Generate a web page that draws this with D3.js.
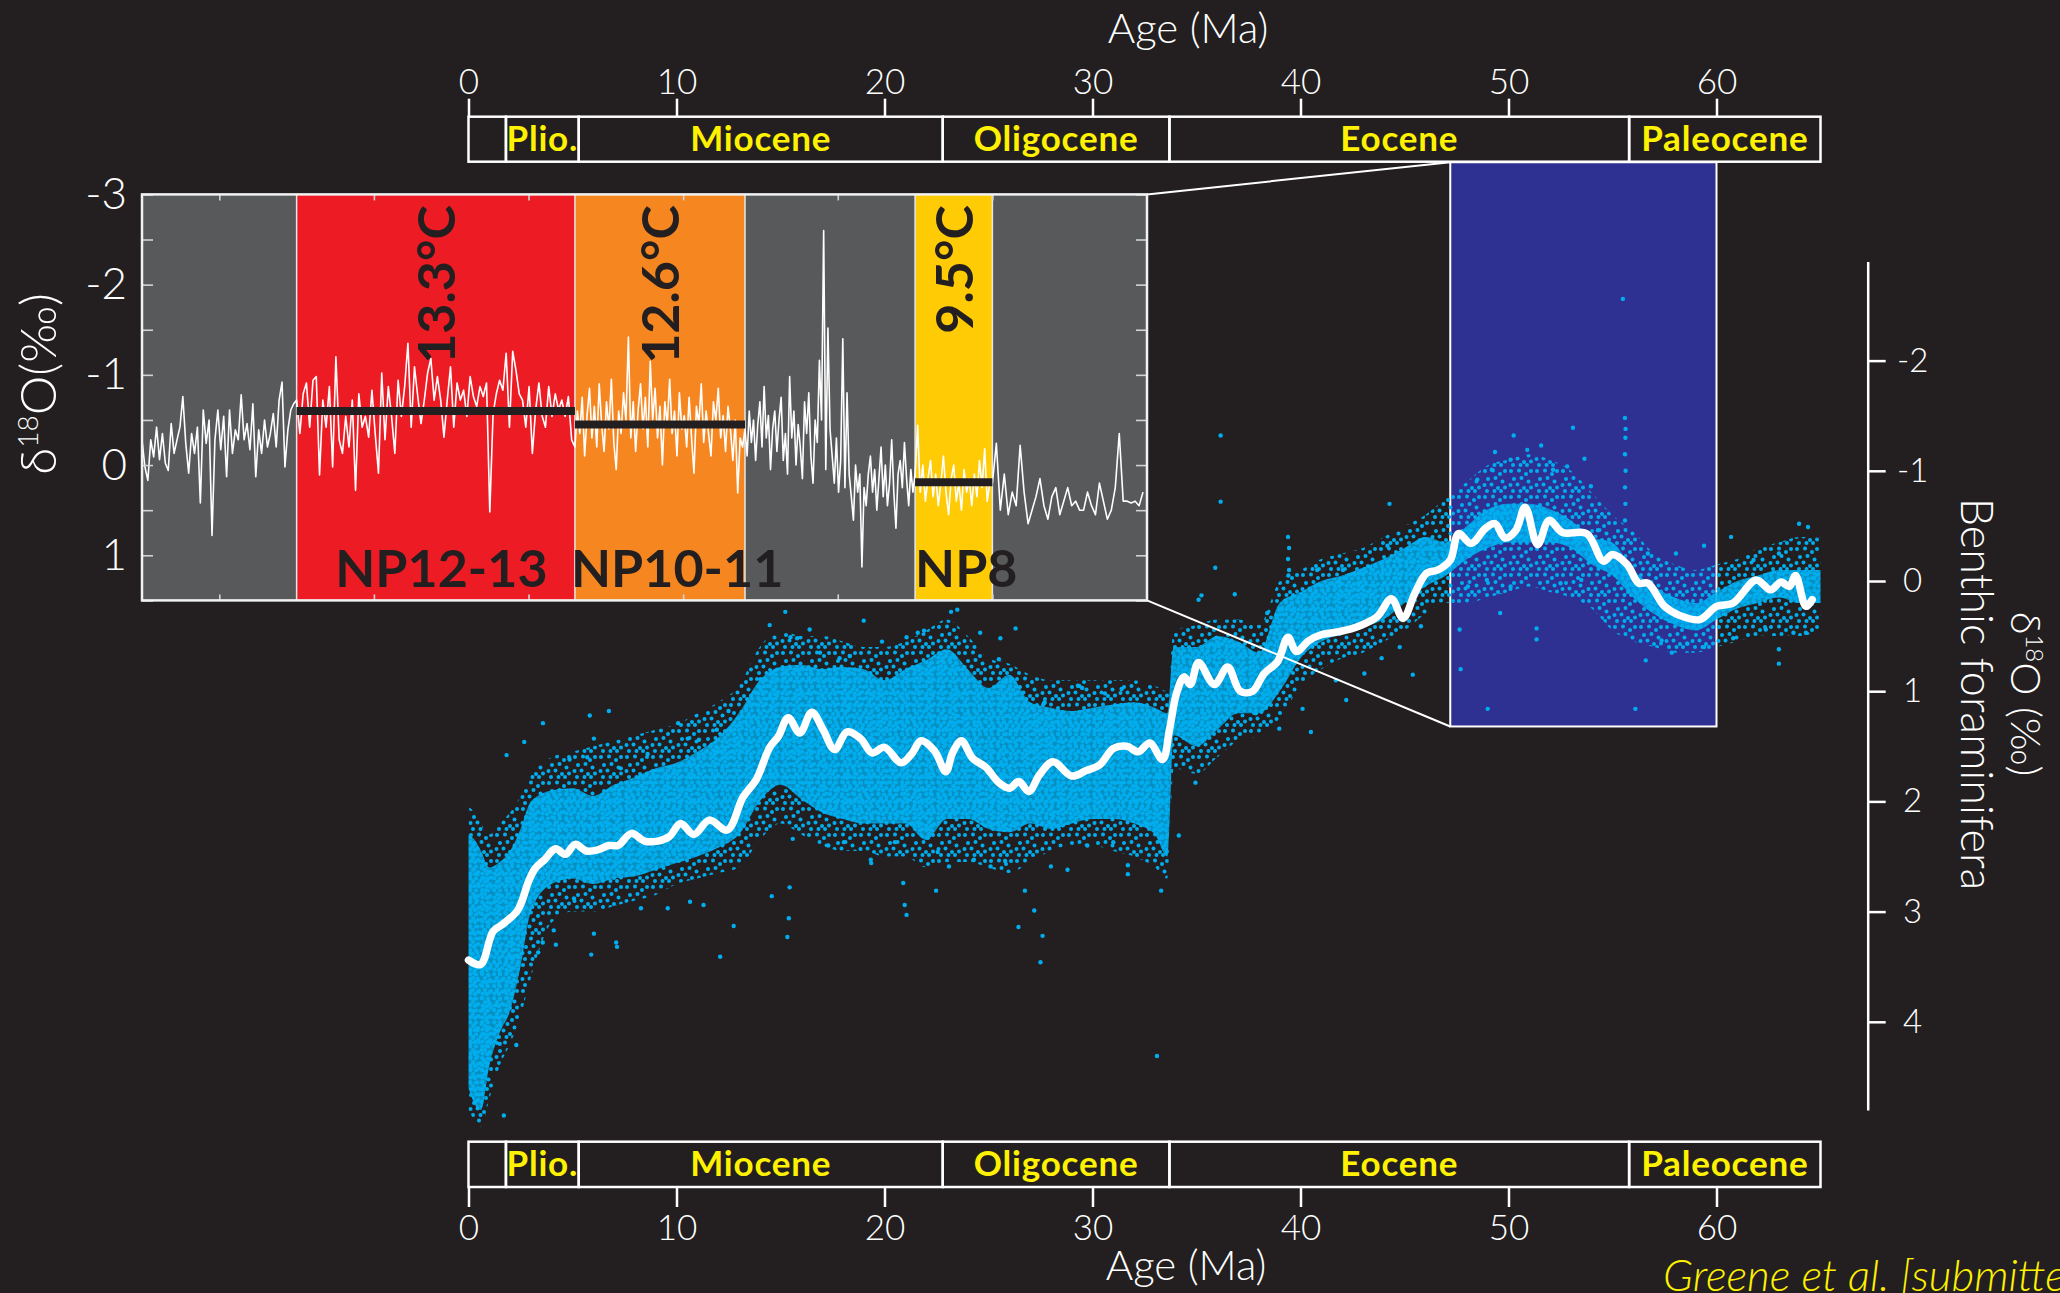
<!DOCTYPE html>
<html>
<head>
<meta charset="utf-8">
<script src="https://cdnjs.cloudflare.com/ajax/libs/d3/7.8.5/d3.min.js"></script>
<style>
  body { margin: 0; background: #231f20; }
  svg { display: block; }
  text { font-family: Lato, "Open Sans", sans-serif; }
</style>
</head>
<body>
<script>
// ---------------- data ----------------
var ageTicks = [0, 10, 20, 30, 40, 50, 60];
var epochNames  = ["", "Plio.", "Miocene", "Oligocene", "Eocene", "Paleocene"];
var epochStarts = [0, 1.8, 5.3, 22.8, 33.7, 55.8];
var epochEnds   = [1.8, 5.3, 22.8, 33.7, 55.8, 65];
var benthicTicks = [-2, -1, 0, 1, 2, 3, 4];

// smoothed benthic d18O curve [age Ma, d18O]
var curvePoints = [
  [0.0,3.44],[0.58,3.48],[1.18,3.18],[1.6,3.12],[2.36,2.99],[2.9,2.72],[3.2,2.61],[3.65,2.53],
  [4.18,2.43],[4.66,2.48],[5.13,2.39],[5.67,2.45],[6.22,2.44],[6.75,2.40],[7.19,2.40],[7.83,2.29],
  [8.46,2.36],[9.1,2.36],[9.65,2.32],[10.2,2.20],[10.83,2.30],[11.58,2.17],[12.44,2.26],[13.2,1.96],
  [13.84,1.80],[14.48,1.51],[14.9,1.41],[15.37,1.24],[15.93,1.38],[16.5,1.19],[17.05,1.35],[17.6,1.53],
  [18.2,1.37],[18.85,1.43],[19.4,1.56],[20.0,1.51],[20.8,1.65],[21.3,1.57],[21.76,1.45],[22.4,1.54],
  [22.95,1.73],[23.27,1.56],[23.7,1.45],[24.24,1.61],[24.87,1.69],[25.5,1.83],[26.0,1.88],[26.46,1.82],
  [26.94,1.91],[27.45,1.76],[28.1,1.64],[29.0,1.77],[29.7,1.72],[30.34,1.67],[31.0,1.52],[31.65,1.50],
  [32.2,1.55],[32.75,1.47],[33.37,1.62],[33.7,1.35],[34.04,1.02],[34.4,0.87],[34.7,0.94],[35.1,0.74],
  [35.86,0.94],[36.5,0.78],[37.1,1.00],[37.7,1.00],[38.25,0.84],[38.9,0.73],[39.4,0.51],[39.8,0.64],
  [40.4,0.54],[40.96,0.49],[41.86,0.46],[42.8,0.41],[43.7,0.32],[44.37,0.16],[44.93,0.34],[45.5,0.11],
  [46.06,-0.07],[46.6,-0.10],[47.2,-0.19],[47.6,-0.43],[48.2,-0.34],[48.9,-0.48],[49.35,-0.52],[49.83,-0.39],
  [50.35,-0.46],[50.8,-0.67],[51.4,-0.33],[51.95,-0.55],[52.6,-0.44],[53.76,-0.43],[54.56,-0.18],[55.0,-0.24],
  [55.7,-0.15],[56.26,0.02],[56.7,0.02],[57.5,0.23],[58.2,0.31],[59.2,0.35],[60.0,0.23],[60.8,0.20],
  [61.9,-0.01],[62.6,0.08],[63.1,0.01],[63.5,0.05],[63.8,-0.05],[64.3,0.23],[64.6,0.17]
];

// envelope of the benthic point cloud
var cloudAge     = [0,0.3,0.6,1,1.5,2,2.5,3, 4,5,6,7,8,9,10,11,12,13, 14,15,16,17,18,19,20,21,22,23,
                    24,25,26,27,28,29,30,31,32,33, 33.6,33.9, 35,36,37,38,39,40,41,42,43,44,45,46,
                    47,48,49,50,51,52,53,54,55,56,57,58,59,60,61,62,63,64,65];
var spreadTop    = [2.05,2.1,2.2,2.3,2.2,2.1,1.95,1.75, 1.6,1.55,1.5,1.45,1.4,1.35,1.3,1.2,1.1,0.95,
                    0.6,0.45,0.5,0.5,0.55,0.6,0.6,0.55,0.45,0.35, 0.5,0.7,0.75,0.85,0.9,0.9,0.9,0.9,0.9,0.95,
                    1.0,0.45, 0.4,0.35,0.35,0.4,0.0,-0.1,-0.2,-0.25,-0.3,-0.4,-0.5,-0.6,
                    -0.75,-0.9,-1.05,-1.1,-1.15,-1.1,-1.0,-0.8,-0.6,-0.45,-0.25,-0.15,-0.1,-0.15,-0.2,-0.3,-0.35,-0.4,-0.4];
var spreadBottom = [4.8,4.9,4.95,4.7,4.4,4.2,3.95,3.6, 3.1,3.0,3.0,2.95,2.9,2.85,2.75,2.7,2.65,2.6,
                    2.35,2.2,2.3,2.4,2.45,2.45,2.5,2.5,2.6,2.55, 2.55,2.6,2.65,2.55,2.45,2.4,2.4,2.45,2.5,2.6,
                    2.7,1.7, 1.75,1.6,1.45,1.4,1.25,0.95,0.8,0.7,0.65,0.55,0.45,0.3,
                    0.2,0.2,0.15,0.1,0.05,0.1,0.15,0.25,0.45,0.55,0.6,0.65,0.65,0.6,0.55,0.5,0.5,0.5,0.45];
var coreTop      = [2.3,2.35,2.45,2.6,2.55,2.45,2.25,2.0, 1.9,1.88,1.95,1.85,1.78,1.7,1.65,1.55,1.42,1.2,
                    0.9,0.78,0.76,0.8,0.78,0.8,0.9,0.8,0.72,0.62, 0.8,0.97,0.85,1.1,1.15,1.18,1.15,1.12,1.1,1.15,
                    1.2,0.6, 0.6,0.5,0.55,0.65,0.2,0.1,0.0,-0.05,-0.12,-0.2,-0.3,-0.4,
                    -0.35,-0.5,-0.65,-0.7,-0.7,-0.65,-0.55,-0.4,-0.35,-0.1,0.05,0.15,0.2,0.1,0.0,-0.05,-0.1,-0.1,-0.1];
var coreBottom   = [4.6,4.75,4.8,4.4,4.1,3.9,3.5,3.0, 2.75,2.7,2.75,2.7,2.68,2.62,2.56,2.5,2.42,2.3,
                    2.0,1.85,1.98,2.1,2.16,2.2,2.2,2.2,2.35,2.16, 2.16,2.25,2.28,2.2,2.25,2.2,2.16,2.16,2.2,2.3,
                    2.5,1.4, 1.5,1.35,1.2,1.2,1.0,0.7,0.55,0.48,0.42,0.35,0.2,0.05,
                    -0.05,-0.2,-0.3,-0.35,-0.35,-0.35,-0.3,-0.15,-0.05,0.15,0.3,0.4,0.45,0.35,0.25,0.2,0.15,0.2,0.2];

// single measurements lying outside the dense cloud [age, d18O]
var outliers = [
  [1.83,1.58],[2.68,1.46],[3.58,1.29],[5.83,1.22],[6.75,1.18],[6.03,1.43],[10.08,1.29],[12.5,1.18],
  [14.48,0.40],[15.23,0.28],[19.0,0.36],[23.5,0.26],[21.9,0.45],[1.7,4.85],[2.3,4.21],[1.5,4.2],
  [4.2,3.3],[5.9,3.39],[7.14,3.32],[12.1,3.41],[12.75,3.13],[15.33,3.23],[15.4,3.06],[14.58,2.86],
  [15.44,2.78],[21.06,3.03],[20.97,2.94],[22.48,2.81],[26.44,3.14],[27.6,3.22],[27.5,3.46],[27.2,2.99],
  [20.9,2.74],[19.36,2.56],[24.3,2.53],[31.7,2.58],[31.4,0.98],[29.5,0.97],[27.67,1.11],
  [36.16,-1.32],[36.16,-0.72],[35.9,-0.12],[35.1,0.17],[36.84,0.12],[44.28,-0.70],[44.18,-0.32],
  [34.95,1.83],[34.15,2.31],[33.3,2.81],[40.5,1.37],[42.2,1.08],[45.4,0.85],[43.9,0.70],[47.7,0.80],
  [47.65,0.44],[49.6,0.29],[51.35,0.43],[51.35,0.53],[56.1,1.16],[53.1,-1.39],[55.6,-1.48],[50.25,-1.32],
  [51.57,-1.23],[49.35,-1.17],[53.65,-1.11],[56.6,0.72],[57.85,0.65],[60.7,-0.40],[59.4,-0.32],
  [63.97,-0.52],[64.4,-0.49],[63.0,0.75],[64.3,0.47],[63.0,0.62],[60.8,0.52],
  [33.1,4.31],[55.5,-2.56],[49.0,1.16],
  [55.62,-1.3],[55.6,-1.15],[55.63,-1.0],[55.6,-0.85],[55.62,-0.7],[55.6,-0.55],[55.63,-1.38],
  [39.4,-0.4],[39.45,-0.3],[39.4,-0.2],[39.45,-0.1],[39.42,-0.05],
  [4.86,1.62],[5.71,1.60],[7.32,1.70],[8.61,1.57],[10.54,1.43],[11.08,1.44],[11.94,1.35],[13.05,1.29],
  [14.04,0.89],[15.48,0.51],[15.8,0.52],[16.4,0.44],[16.9,0.65],[17.84,0.70],[18.33,0.68],[19.88,0.55],
  [21.06,0.51],[21.6,0.47],[23.2,0.28],[24.6,0.47],[25.57,0.52],[26.3,0.43],[25.5,0.71],[27.7,1.10],
  [28.57,1.19],[29.3,0.95],[30.6,1.02],
  [3.35,3.37],[3.57,3.28],[4.1,3.17],[5.07,2.88],[6.03,3.20],[7.1,3.28],[8.29,2.97],[9.58,2.97],
  [10.65,2.91],[11.3,2.94],[15.59,2.34],[17.3,2.40],[18.05,2.37],[19.34,2.53],[20.5,2.37],[22.56,2.46],
  [23.1,2.59],[25.1,2.59],[25.8,2.54],[26.75,2.81],[28.0,2.59],[28.8,2.62],[29.75,2.40],[31.0,2.37],[31.7,2.66],
  [35.24,0.13],[38.4,0.29],[39.1,0.26],[40.8,-0.10],[42.04,-0.10],[42.84,-0.07],[43.96,-0.10],[45.1,-0.28],
  [45.45,-0.19],[46.24,-0.31],[37.85,1.2],[38.98,1.34],[40.1,1.16],[41.7,0.90],[43.07,0.84],[44.77,0.60],[45.79,0.41],
  [48.5,-0.92],[49.2,-1.01],[50.1,-1.10],[50.9,-1.19],[52.14,-1.01],[52.82,-1.04],[53.96,-0.86],[54.3,-0.46],
  [48.05,0.05],[48.96,-0.01],[50.1,0.05],[52.5,0.02],[53.5,-0.01],[56.7,-0.25],[58.05,-0.25],[57.36,0.54],
  [58.6,0.57],[59.4,0.60],[61.78,-0.19],[63.0,-0.25],[62.37,0.44],[63.7,0.47]
];

// zoom box on the main record (age, d18O)
var zoomAges = [47.2, 60];
var zoomD18O = [-3.8, 1.32];

// inset: high-resolution record, one list per interval
var insetTicksY = [-3, -2.5, -2, -1.5, -1, -0.5, 0, 0.5, 1, 1.5];
var insetTicksX = [48, 50, 52, 54, 56, 58];
var bandEdges = [47, 49, 52.6, 54.8, 57, 58, 60];
var bandKind  = ["none", "NP12-13", "NP10-11", "none", "NP8", "none"];

var insetRec1 = [-0.28,0.02,0.17,-0.28,-0.09,-0.42,-0.06,-0.35,-0.02,0.06,-0.46,-0.13,-0.28,-0.42,-0.76,-0.24,
  0.09,-0.35,-0.13,-0.42,0.42,-0.61,-0.24,-0.5,0.78,-0.28,-0.61,-0.17,-0.54,0.13,-0.61,-0.13,-0.39,-0.28,
  -0.78,-0.28,-0.46,-0.17,-0.68,0.13,-0.39,-0.13,-0.5,-0.2,-0.35,-0.57,-0.2,-0.72,-0.92,0.02,-0.39,-0.61,-0.68];
var insetRec2 = [-0.72,-0.35,-0.79,-0.91,-0.42,-0.94,-0.98,0.11,-0.72,-0.42,-0.87,0.02,-1.2,-0.28,-0.13,-0.54,
  -0.2,-0.72,0.28,-0.79,-0.42,-0.54,-0.31,-0.83,-0.35,0.09,-1.02,-0.28,-0.87,-0.54,-0.13,-0.94,-0.54,-0.87,
  -1.35,-0.42,-1.09,-0.76,-0.46,-0.72,-1.02,-1.18,-0.72,-0.98,-0.72,-0.31,-0.72,-1.09,-0.42,-0.91,-0.72,-0.83,
  -0.54,-0.98,-0.76,-0.65,-0.87,-0.76,-0.91,0.52,-0.57,-0.79,-0.94,-0.83,-1.24,-0.42,-1.26,-1.05,-0.79,-0.72,
  -0.42,-0.87,-0.13,-0.61,-0.91,-0.54,-0.42,-0.87,-0.54,-0.79,-0.61,-0.72,-0.54,-0.76,-0.28];
var insetRec3 = [-0.2,-0.6,-0.35,-0.75,-0.1,-0.55,-0.85,-0.3,-0.65,-0.2,-0.9,-0.45,-0.15,-0.7,-0.4,-0.95,-0.25,
  0.05,-0.6,-0.35,-0.8,-0.5,-1.42,-0.3,-0.7,-0.15,-0.6,-0.9,-0.4,-0.75,-0.2,-1.15,-0.5,-0.85,-0.3,-0.65,0.0,
  -0.7,-0.45,-0.95,-0.35,-0.6,-0.1,-0.8,-0.4,-0.55,-0.2,-0.75,-0.3,0.09,-0.65,-0.45,-0.9,-0.25,-0.6,-0.35,
  -0.1,-0.7,-0.5,-0.85,-0.3,-0.55,-0.15,-0.65,-0.4,-0.05,-0.5,0.31,-0.3,-0.2];
var insetRec4 = [-0.4,-0.1,-0.6,-0.25,-0.5,-0.05,-0.45,-0.7,-0.2,-0.87,-0.3,-0.55,0.05,-0.4,-0.6,-0.15,-0.5,
  -0.75,-0.05,-0.35,0.1,-0.98,-0.3,-0.6,0.0,-0.45,-0.2,0.15,-0.7,-0.35,-0.8,-0.1,0.2,-0.5,-0.25,-1.16,-0.5,
  -2.6,0.05,-1.52,-0.4,-0.1,0.2,-0.3,0.3,-0.05,-1.4,0.25,-0.8,0.1,0.35,0.61,0.0,0.3,0.1,1.13,0.25,0.45,0.1,
  -0.1,0.3,0.05,0.5,0.15,-0.2,0.35,0.0,0.45,0.2,-0.28,0.3,0.7,0.1,-0.05,0.25,-0.25,0.15,0.45,0.05,0.3];
var insetRec5 = [0.1,-0.44,0.3,0.0,0.4,0.15,-0.05,0.35,0.1,0.45,0.2,-0.1,0.3,0.55,0.15,0.0,0.4,0.2,0.5,0.05,
  0.3,0.15,0.45,0.1,0.35,-0.05,0.25,-0.18,0.4,0.2];
var insetRec6 = [0.2,-0.24,0.5,0.1,0.55,0.3,0.45,-0.22,0.3,0.65,0.5,0.35,0.15,0.45,0.6,0.35,0.25,0.55,0.4,0.25,
  0.45,0.4,0.5,0.5,0.3,0.45,0.55,0.2,0.4,0.6,0.5,0.25,-0.35,0.4,0.4,0.42,0.4,0.45,0.3];
var insetRecords = [insetRec1, insetRec2, insetRec3, insetRec4, insetRec5, insetRec6];

// nannofossil zones: mean d18O and temperature
var npNames = ["NP12-13", "NP10-11", "NP8"];
var npFrom  = [49.0, 52.6, 57.0];
var npTo    = [52.6, 54.8, 58.0];
var npMean  = [-0.6, -0.45, 0.19];
var npTemp  = ["13.3°C", "12.6°C", "9.5°C"];
var npLabelAge = [49.5, 52.55, 57.0];

// ---------------- styles ----------------
var BG = "#231f20", CYAN = "#00aeef", YELLOW = "#fff200", DARK = "#231f20";
var bandColor = { "none": "#58595b", "NP12-13": "#ed1c24", "NP10-11": "#f6861f", "NP8": "#ffcb05" };

var W = 2060, H = 1293;
var svg = d3.select("body").append("svg")
    .attr("width", W).attr("height", H)
    .style("background", BG);
var defs = svg.append("defs");

// scales
var x = d3.scaleLinear().domain([0, 65]).range([468.5, 1820.5]);
var y = d3.scaleLinear().domain([-2.9, 4.8]).range([581 - 2.9 * 110.2, 581 + 4.8 * 110.2]);
var xIn = d3.scaleLinear().domain([47, 60]).range([142, 1147]);
var yIn = d3.scaleLinear().domain([-3, 1.5]).range([194.4, 600.4]);

// textures for the point cloud
function dotPattern(id, size, pts, r, under) {
  var p = defs.append("pattern").attr("id", id)
      .attr("patternUnits", "userSpaceOnUse").attr("width", size).attr("height", size);
  if (under) p.append("rect").attr("width", size).attr("height", size).attr("fill", CYAN).attr("opacity", under);
  pts.forEach(function (q) {
    p.append("circle").attr("cx", q[0]).attr("cy", q[1]).attr("r", r).attr("fill", CYAN);
  });
}
dotPattern("speck", 26, [[3,3],[11,2.5],[18,6],[23,3],[6,11],[13.5,10],[20.5,13.5],[2.5,17],[9.5,16.5],
  [16,20],[23,19.5],[5,23],[12.5,23],[19,23]], 2.0);
dotPattern("dense", 12, [[2.2,2.2],[8,2.5],[5,6],[10,8],[2.5,9.5],[7,10]], 2.1, 0.78);

// ---------------- zoom box ----------------
svg.append("rect")
    .attr("x", x(zoomAges[0])).attr("y", y(zoomD18O[0]))
    .attr("width", x(zoomAges[1]) - x(zoomAges[0]))
    .attr("height", y(zoomD18O[1]) - y(zoomD18O[0]))
    .attr("fill", "#2e3192").attr("stroke", "#fff").attr("stroke-width", 2);

// ---------------- main cloud ----------------
var cloudRows = cloudAge.map(function (a, i) {
  return { a: a, st: spreadTop[i], sb: spreadBottom[i], ct: coreTop[i], cb: coreBottom[i] };
});

svg.append("path").datum(cloudRows)
    .attr("fill", "url(#speck)")
    .attr("d", d3.area().curve(d3.curveMonotoneX)
        .x(function (d) { return x(d.a); })
        .y0(function (d) { return y(d.sb); })
        .y1(function (d) { return y(d.st); }));

svg.append("path").datum(cloudRows)
    .attr("fill", "url(#dense)")
    .attr("d", d3.area().curve(d3.curveMonotoneX)
        .x(function (d) { return x(d.a); })
        .y0(function (d) { return y(d.cb); })
        .y1(function (d) { return y(d.ct); }));

svg.append("g").selectAll("circle")
    .data(outliers).enter().append("circle")
    .attr("cx", function (d) { return x(d[0]); })
    .attr("cy", function (d) { return y(d[1]); })
    .attr("r", 2.2)
    .attr("fill", CYAN);

// smoothed curve
svg.append("path").datum(curvePoints)
    .attr("fill", "none").attr("stroke", "#fff")
    .attr("stroke-width", 7.5).attr("stroke-linejoin", "round").attr("stroke-linecap", "round")
    .attr("d", d3.line().curve(d3.curveCatmullRom.alpha(0.5))
        .x(function (d) { return x(d[0]); })
        .y(function (d) { return y(d[1]); }));

// connector lines inset -> zoom box
svg.append("line")
    .attr("x1", xIn(60)).attr("y1", yIn(-3))
    .attr("x2", x(zoomAges[0])).attr("y2", y(zoomD18O[0]))
    .attr("stroke", "#fff").attr("stroke-width", 2);
svg.append("line")
    .attr("x1", xIn(60)).attr("y1", yIn(1.5))
    .attr("x2", x(zoomAges[0])).attr("y2", y(zoomD18O[1]))
    .attr("stroke", "#fff").attr("stroke-width", 2);

// ---------------- inset ----------------
var inset = svg.append("g");
defs.append("clipPath").attr("id", "insetClip").append("rect")
    .attr("x", xIn(47)).attr("y", yIn(-3))
    .attr("width", xIn(60) - xIn(47)).attr("height", yIn(1.5) - yIn(-3));

inset.selectAll("rect.band")
    .data(bandKind).enter().append("rect")
    .attr("class", "band")
    .attr("x", function (d, i) { return xIn(bandEdges[i]); })
    .attr("y", yIn(-3))
    .attr("width", function (d, i) { return xIn(bandEdges[i + 1]) - xIn(bandEdges[i]); })
    .attr("height", yIn(1.5) - yIn(-3))
    .attr("fill", function (d) { return bandColor[d]; });

inset.selectAll("line.sep")
    .data(bandEdges.slice(1, -1)).enter().append("line")
    .attr("class", "sep")
    .attr("x1", function (d) { return xIn(d); }).attr("x2", function (d) { return xIn(d); })
    .attr("y1", yIn(-3)).attr("y2", yIn(1.5))
    .attr("stroke", "#e6e7e8").attr("stroke-width", 1.5);

// temperature labels (rotated)
inset.selectAll("text.temp")
    .data(npTemp).enter().append("text")
    .attr("class", "temp")
    .attr("transform", function (d, i) {
      var c = xIn((npFrom[i] + npTo[i]) / 2) + 19;
      return "translate(" + c + "," + 205 + ") rotate(-90)";
    })
    .attr("text-anchor", "end")
    .style("font-size", "52px").style("font-weight", 700)
    .attr("fill", DARK)
    .text(function (d) { return d; });

// zone names
inset.selectAll("text.np")
    .data(npNames).enter().append("text")
    .attr("class", "np")
    .attr("x", function (d, i) { return xIn(npLabelAge[i]); })
    .attr("y", 587)
    .style("font-size", "52px").style("font-weight", 700)
    .attr("fill", DARK)
    .text(function (d) { return d; });

// high resolution record
var insetPts = [];
insetRecords.forEach(function (vals, s) {
  var a0 = bandEdges[s], a1 = bandEdges[s + 1];
  vals.forEach(function (v, i) {
    insetPts.push([a0 + (a1 - a0) * i / vals.length, v]);
  });
});
inset.append("path").datum(insetPts)
    .attr("clip-path", "url(#insetClip)")
    .attr("fill", "none").attr("stroke", "#fff").attr("stroke-width", 1.6)
    .attr("stroke-linejoin", "round")
    .attr("d", d3.line()
        .x(function (d) { return xIn(d[0]); })
        .y(function (d) { return yIn(d[1]); }));

// zone means
inset.selectAll("line.mean")
    .data(npMean).enter().append("line")
    .attr("class", "mean")
    .attr("x1", function (d, i) { return xIn(npFrom[i]); })
    .attr("x2", function (d, i) { return xIn(npTo[i]); })
    .attr("y1", function (d) { return yIn(d); })
    .attr("y2", function (d) { return yIn(d); })
    .attr("stroke", DARK).attr("stroke-width", 8);

// inset axes
function styleInsetAxis(g) {
  g.select(".domain").remove();
  g.selectAll(".tick line").attr("stroke", "#d1d3d4").attr("stroke-width", 1.6);
}
var inLeft = inset.append("g").attr("transform", "translate(" + xIn(47) + ",0)")
    .call(d3.axisLeft(yIn).tickValues(insetTicksY).tickSizeInner(-11).tickSizeOuter(0).tickPadding(15)
        .tickFormat(function (d) { return d % 1 === 0 ? String(d) : ""; }));
styleInsetAxis(inLeft);
inLeft.selectAll(".tick text").attr("fill", "#fff").style("font-size", "44px").style("font-weight", 300)
    .attr("font-family", null);
inset.append("g").attr("transform", "translate(" + xIn(60) + ",0)")
    .call(d3.axisRight(yIn).tickValues(insetTicksY).tickSizeInner(-11).tickSizeOuter(0).tickFormat(""))
    .call(styleInsetAxis);
inset.append("g").attr("transform", "translate(0," + yIn(-3) + ")")
    .call(d3.axisTop(xIn).tickValues(insetTicksX).tickSizeInner(-6).tickSizeOuter(0).tickFormat(""))
    .call(styleInsetAxis);
inset.append("g").attr("transform", "translate(0," + yIn(1.5) + ")")
    .call(d3.axisBottom(xIn).tickValues(insetTicksX).tickSizeInner(-6).tickSizeOuter(0).tickFormat(""))
    .call(styleInsetAxis);

inset.append("rect")
    .attr("x", xIn(47)).attr("y", yIn(-3))
    .attr("width", xIn(60) - xIn(47)).attr("height", yIn(1.5) - yIn(-3))
    .attr("fill", "none").attr("stroke", "#f1f2f2").attr("stroke-width", 2.5);

// inset y title
var lt = svg.append("text")
    .attr("transform", "translate(56,384) rotate(-90)")
    .attr("text-anchor", "middle")
    .attr("fill", "#fff").style("font-size", "50px").style("font-weight", 300);
lt.append("tspan").text("δ");
lt.append("tspan").attr("dy", -18).style("font-size", "28px").text("18");
lt.append("tspan").attr("dy", 18).text("O(‰)");

// ---------------- epoch bars & age axes ----------------
function epochBar(y0, y1) {
  var g = svg.append("g");
  g.selectAll("rect").data(epochStarts).enter().append("rect")
      .attr("x", function (d) { return x(d); })
      .attr("y", y0)
      .attr("width", function (d, i) { return x(epochEnds[i]) - x(d); })
      .attr("height", y1 - y0)
      .attr("fill", "none").attr("stroke", "#fff").attr("stroke-width", 2.5);
  g.selectAll("text").data(epochNames).enter().append("text")
      .attr("x", function (d, i) { return x((epochStarts[i] + epochEnds[i]) / 2); })
      .attr("y", y0 + 34.5)
      .attr("text-anchor", "middle")
      .attr("fill", YELLOW)
      .style("font-size", "35px").style("font-weight", 700).style("letter-spacing", "0.8px")
      .text(function (d) { return d; });
}
epochBar(116.7, 161.7);
epochBar(1141.7, 1187);

function styleAgeAxis(g) {
  g.select(".domain").remove();
  g.selectAll(".tick line").attr("stroke", "#fff").attr("stroke-width", 2.5);
  g.selectAll(".tick text").attr("fill", "#fff").attr("font-family", null)
      .style("font-size", "35px").style("font-weight", 300);
}
svg.append("g").attr("transform", "translate(0,116.7)")
    .call(d3.axisTop(x).tickValues(ageTicks).tickSize(18).tickPadding(5).tickFormat(function (d) { return String(d); }))
    .call(styleAgeAxis);
svg.append("g").attr("transform", "translate(0,1187)")
    .call(d3.axisBottom(x).tickValues(ageTicks).tickSize(20).tickPadding(8).tickFormat(function (d) { return String(d); }))
    .call(styleAgeAxis);

svg.append("text").attr("x", 1188).attr("y", 43).attr("text-anchor", "middle")
    .attr("fill", "#fff").style("font-size", "42px").style("font-weight", 300)
    .text("Age (Ma)");
svg.append("text").attr("x", 1186).attr("y", 1280).attr("text-anchor", "middle")
    .attr("fill", "#fff").style("font-size", "42px").style("font-weight", 300)
    .text("Age (Ma)");

// ---------------- right benthic axis ----------------
var ra = svg.append("g").attr("transform", "translate(1867.7,0)")
    .call(d3.axisRight(y).tickValues(benthicTicks).tickSize(18).tickSizeOuter(0)
        .tickFormat(function (d) { return String(d); }));
ra.select(".domain").attr("stroke", "#fff").attr("stroke-width", 2.5);
ra.selectAll(".tick line").attr("stroke", "#fff").attr("stroke-width", 2.5);
ra.selectAll(".tick text").attr("fill", "#fff").attr("font-family", null)
    .attr("x", 45).attr("text-anchor", "middle")
    .style("font-size", "33px").style("font-weight", 300);

var rt = svg.append("text")
    .attr("transform", "translate(2011,694) rotate(90)")
    .attr("text-anchor", "middle")
    .attr("fill", "#fff").style("font-size", "42px").style("font-weight", 300);
rt.append("tspan").text("δ");
rt.append("tspan").attr("dy", -15).style("font-size", "24px").text("18");
rt.append("tspan").attr("dy", 15).text("O (‰)");
svg.append("text")
    .attr("transform", "translate(1961,694) rotate(90)")
    .attr("text-anchor", "middle")
    .attr("fill", "#fff").style("font-size", "45px").style("font-weight", 300)
    .text("Benthic foraminifera");

// credit (runs off the right edge as in the original slide)
svg.append("text").attr("x", 1663).attr("y", 1291)
    .attr("fill", YELLOW).style("font-size", "44px").style("font-style", "italic").style("font-weight", 300)
    .text("Greene et al. [submitted]");
</script>
</body>
</html>
